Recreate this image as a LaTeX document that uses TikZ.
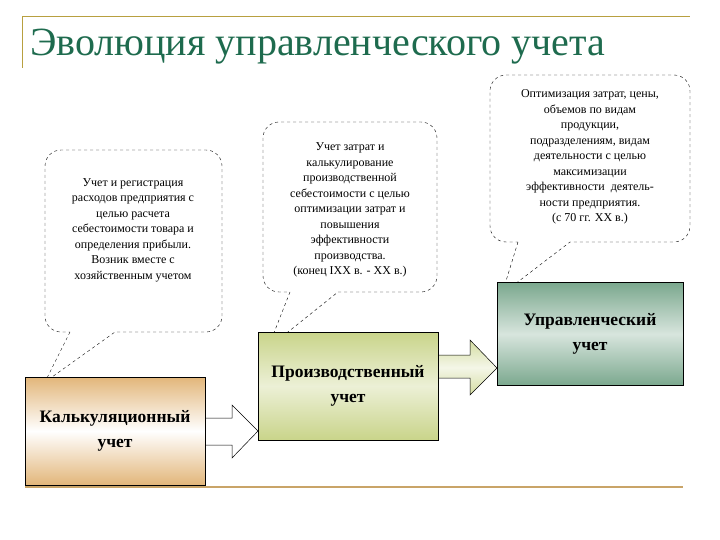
\documentclass[tikz,border=0pt]{standalone}
\usepackage{fontspec}
\setmainfont{Liberation Serif}
\definecolor{ttl}{HTML}{1E6B4E}
\definecolor{gold}{HTML}{B8A040}
\definecolor{tan}{HTML}{E2B67A}
\definecolor{olive}{HTML}{C9D48A}
\definecolor{sage}{HTML}{7BA88E}
\definecolor{bline}{HTML}{C9A468}
\begin{document}
\begin{tikzpicture}[x=1pt,y=-1pt,
 callout/.style={draw,dashed,fill=white,rounded corners=16pt},
 ctext/.style={align=center,font=\fontsize{12}{15.5}\selectfont},
 box/.style={draw,line width=0.8pt},
 blab/.style={align=center,font=\bfseries\fontsize{17.5}{25}\selectfont},
 barrow/.style={draw,line width=0.5pt}]
\useasboundingbox (0,0) rectangle (720,540);
% frame
\draw[gold,line width=1pt] (22,68) -- (22,17) -- (690,17);
\node[anchor=west,text=ttl,font=\fontsize{40}{44}\selectfont,inner sep=0pt] (title) at (30,47) {Эволюция управленческого учета};
\draw[bline,line width=2pt] (25,487) -- (683,487);
% callouts
\draw[callout] (70,332) [sharp corners]-- (45,382) -- (115,332) [rounded corners=16pt]-- (222,332) -- (222,150) -- (45,150) -- (45,332) -- (70,332);
\node[ctext] (c1) at (133,230) {Учет и регистрация\\расходов предприятия с\\целью расчета\\себестоимости товара и\\определения прибыли.\\Возник вместе с\\хозяйственным учетом};
\draw[callout] (290,292) [sharp corners]-- (268,348) -- (338,292) [rounded corners=16pt]-- (437,292) -- (437,122) -- (263,122) -- (263,292) -- (290,292);
\node[ctext] (c2) at (350,210) {Учет затрат и\\калькулирование\\производственной\\себестоимости с целью\\оптимизации затрат и\\повышения\\эффективности\\производства.\\(конец IXX в. - XX в.)};
\draw[callout] (518,242) [sharp corners]-- (502,294) -- (570,242) [rounded corners=16pt]-- (690,242) -- (690,75) -- (490,75) -- (490,242) -- (518,242);
\node[ctext] (c3) at (590,157) {Оптимизация затрат, цены,\\объемов по видам\\продукции,\\подразделениям, видам\\деятельности с целью\\максимизации\\эффективности\ \ деятель-\\ности предприятия.\\(с 70 гг. XX в.)};
% block arrows
\draw[barrow,top color=white,bottom color=white,middle color=white] (205,418) -- (232,418) -- (232,405) -- (258,431) -- (232,458) -- (232,445) -- (205,445) -- cycle;
\draw[barrow,top color=olive!80,bottom color=olive!80,middle color=olive!20] (438,355) -- (470,355) -- (470,340) -- (497,368) -- (470,395) -- (470,378) -- (438,378) -- cycle;
% boxes
\node[box,minimum width=180pt,minimum height=108pt,top color=tan,bottom color=tan,middle color=white,blab] (k) at (115,431) {Калькуляционный\\учет};
\node[box,minimum width=180pt,minimum height=108pt,top color=olive,bottom color=olive,middle color=olive!35,blab] (p) at (348,386) {Производственный\\учет};
\node[box,minimum width=186pt,minimum height=103pt,top color=sage,bottom color=sage,middle color=sage!30,blab] (u) at (590,334) {Управленческий\\учет};
\end{tikzpicture}
\end{document}
